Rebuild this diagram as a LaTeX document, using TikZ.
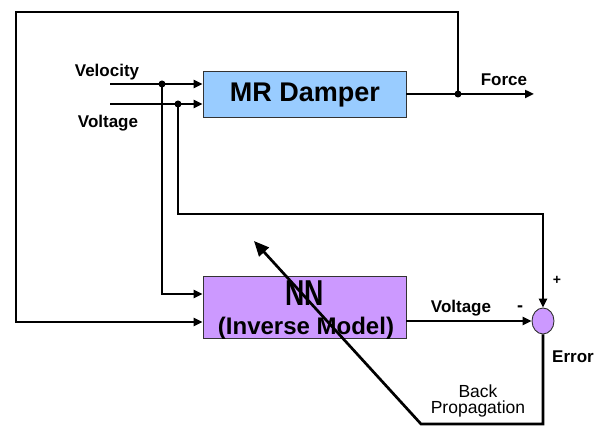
\documentclass[tikz,border=0pt]{standalone}
\usepackage{fontspec}
\setmainfont{Liberation Sans}
\usetikzlibrary{arrows.meta,shapes.geometric}
\definecolor{mrblue}{HTML}{99CCFF}
\definecolor{nnpurple}{HTML}{CC99FF}
\begin{document}
\begin{tikzpicture}[x=1pt,y=-1pt, line width=2.7pt,
  >={Triangle[length=9pt,width=8pt]},
  lbl/.style={font=\bfseries\fontsize{17}{17}\selectfont, inner sep=0pt, anchor=base},
  blockbox/.style={draw=black!80, line width=0.9pt, minimum width=203pt, inner sep=0pt},
  dot/.style={circle, fill=black, inner sep=0pt, minimum size=7pt}]
\useasboundingbox (0,0) rectangle (606,427);
% blocks
\node[blockbox, fill=mrblue, minimum height=46pt] (mr) at (304.5,94) {};
\node[blockbox, fill=nnpurple, minimum height=62pt] (nn) at (304.5,307) {};
\node[ellipse, draw=black!80, line width=0.9pt, fill=nnpurple, minimum width=22pt, minimum height=26pt, inner sep=0pt] (err) at (543,321) {};
% coordinates
\coordinate (vin) at (110,84);
\coordinate (voin) at (110,104);
\node[dot] (jv) at (162,84) {};
\node[dot] (jvo) at (178,104) {};
\node[dot] (jf) at (458,94) {};
\coordinate (fout) at (534,94);
\coordinate (topR) at (458,12);
\coordinate (topL) at (16,12);
\coordinate (c1) at (178,214);
\coordinate (bpR) at (543,424);
\coordinate (bpL) at (421,424);
\coordinate (bptip) at (254,241);
% connectors
\draw[->] (vin) -- ([yshift=10pt]mr.west);
\draw[->] (voin) -- ([yshift=-10pt]mr.west);
\draw[->] (mr.east) -- (fout);
\draw[->] (jf.center) -- (topR) -- (topL) |- ([yshift=-15pt]nn.west);
\draw[->] (jv.center) |- ([yshift=13pt]nn.west);
\draw[->] (jvo.center) -- (c1) -| (err.north);
\draw[->] ([yshift=-14pt]nn.east) -- (err.west);
% labels
\node[lbl] (tvel) at (107,77) {Velocity};
\node[lbl] (tvol) at (108,128) {Voltage};
\node[lbl] (tforce) at (504,86) {Force};
\node[lbl] (tvol2) at (461,313) {Voltage};
\node[lbl] (terr) at (573,363) {Error};
\node[lbl, font=\bfseries\fontsize{14}{14}\selectfont, anchor=center] (plus) at (557,280) {+};
\node[lbl, font=\bfseries\fontsize{18}{18}\selectfont, anchor=center] (minus) at (520,309) {-};
\node[lbl, font=\fontsize{17.5}{17.5}\selectfont] (tback) at (478,398) {Back};
\node[lbl, font=\fontsize{17.5}{17.5}\selectfont] (tprop) at (478,414) {Propagation};
\node[lbl, font=\bfseries\fontsize{27}{27}\selectfont] (tmr) at (305,102) {MR Damper};
\node[lbl, font=\bfseries\fontsize{36}{36}\selectfont] (tnn) at (305,306) {\scalebox{0.74}[1]{NN}};
\node[lbl, font=\bfseries\fontsize{24}{24}\selectfont] (tinv) at (306,335) {(Inverse Model)};
% back propagation
\draw[->, >={Triangle[length=15pt,width=13pt]}] (err.south) -- (bpR) -- (bpL) -- (bptip);
\end{tikzpicture}
\end{document}
